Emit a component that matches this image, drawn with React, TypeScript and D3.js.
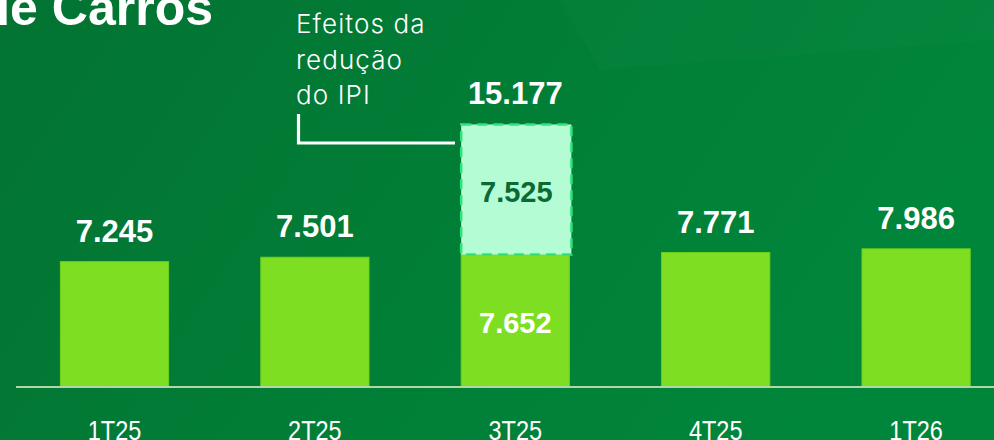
import React from "react";
import * as d3 from "d3";

const categories = ["1T25", "2T25", "3T25", "4T25", "1T26"];
const baseValues = [7245, 7501, 7652, 7771, 7986];
const ipiValues = [0, 0, 7525, 0, 0];
const totalLabels = ["7.245", "7.501", "15.177", "7.771", "7.986"];
const baseLabels = ["", "", "7.652", "", ""];
const ipiLabels = ["", "", "7.525", "", ""];
const annotationLines = ["Efeitos da", "redução", "do IPI"];
const titleText = "de Carros";

const W = 994;
const H = 440;

export default function App() {
  const x = d3
    .scaleBand<string>()
    .domain(categories)
    .range([14.3, 1016.3])
    .paddingInner(0.46)
    .paddingOuter(0.23);
  const y = d3.scaleLinear().domain([0, 8000]).range([387, 387 - 8000 * 0.0173]);
  const bw = x.bandwidth();

  return (
    <div style={{ position: "fixed", left: 0, top: 0, width: W, height: H, overflow: "hidden" }}>
      <svg width={W} height={H} style={{ display: "block" }}>
        <defs>
          <linearGradient id="bg" x1="0" y1="0" x2="1" y2="0.3">
            <stop offset="0" stopColor="#037332" />
            <stop offset="0.5" stopColor="#017d36" />
            <stop offset="1" stopColor="#00863b" />
          </linearGradient>
        </defs>
        <rect x={0} y={0} width={W} height={H} fill="url(#bg)" />
        <path d="M560,0 L994,0 L994,40 L600,70 Z" fill="#ffffff" opacity={0.015} />

        <text
          x={213}
          y={25}
          textAnchor="end"
          fill="#ffffff"
          fontFamily="'Liberation Sans', Arial, sans-serif"
          fontWeight={700}
          fontSize={50}
        >
          {titleText}
        </text>

        {annotationLines.map((t, i) => (
          <text
            key={t}
            x={296}
            y={33 + i * 35.5}
            fill="#ffffff"
            fontFamily="Inter, 'Noto Sans', sans-serif"
            fontWeight={300}
            fontSize={26}
            letterSpacing={1.1}
          >
            {t}
          </text>
        ))}
        <path
          d={`M298.5,114 L298.5,143 L455,143`}
          fill="none"
          stroke="#ffffff"
          strokeWidth={3.2}
        />

        {categories.map((c, i) => {
          const x0 = x(c)!;
          const cx = x0 + bw / 2;
          const yb = y(baseValues[i]);
          const yt = y(baseValues[i] + ipiValues[i]);
          return (
            <g key={c}>
              <rect
                x={x0}
                y={yb}
                width={bw}
                height={y(0) - yb}
                fill="#7edf22"
                stroke="#6fcf1e"
                strokeWidth={1}
              />
              {ipiValues[i] > 0 && (
                <rect
                  x={x0}
                  y={yt}
                  width={bw + 2}
                  height={yb - yt}
                  fill="#b4fcd4"
                  stroke="#30e27a"
                  strokeWidth={2.5}
                  strokeDasharray="10 6"
                />
              )}
              <text
                x={cx}
                y={yt - 20}
                textAnchor="middle"
                fill="#ffffff"
                fontFamily="'Liberation Sans', Arial, sans-serif"
                fontWeight={700}
                fontSize={31}
              >
                {totalLabels[i]}
              </text>
              {baseLabels[i] && (
                <text
                  x={cx}
                  y={333}
                  textAnchor="middle"
                  fill="#ffffff"
                  fontFamily="'Liberation Sans', Arial, sans-serif"
                  fontWeight={700}
                  fontSize={29}
                >
                  {baseLabels[i]}
                </text>
              )}
              {ipiLabels[i] && (
                <text
                  x={cx + 1}
                  y={201.5}
                  textAnchor="middle"
                  fill="#0b6a34"
                  fontFamily="'Liberation Sans', Arial, sans-serif"
                  fontWeight={700}
                  fontSize={29}
                >
                  {ipiLabels[i]}
                </text>
              )}
              <text
                transform={`translate(${cx},440) scale(0.84,1)`}
                textAnchor="middle"
                fill="#ffffff"
                fontFamily="'Liberation Sans', Arial, sans-serif"
                fontSize={28}
              >
                {c}
              </text>
            </g>
          );
        })}

        <line x1={16} x2={W} y1={387} y2={387} stroke="#b3d6a8" strokeWidth={2} />
      </svg>
    </div>
  );
}
